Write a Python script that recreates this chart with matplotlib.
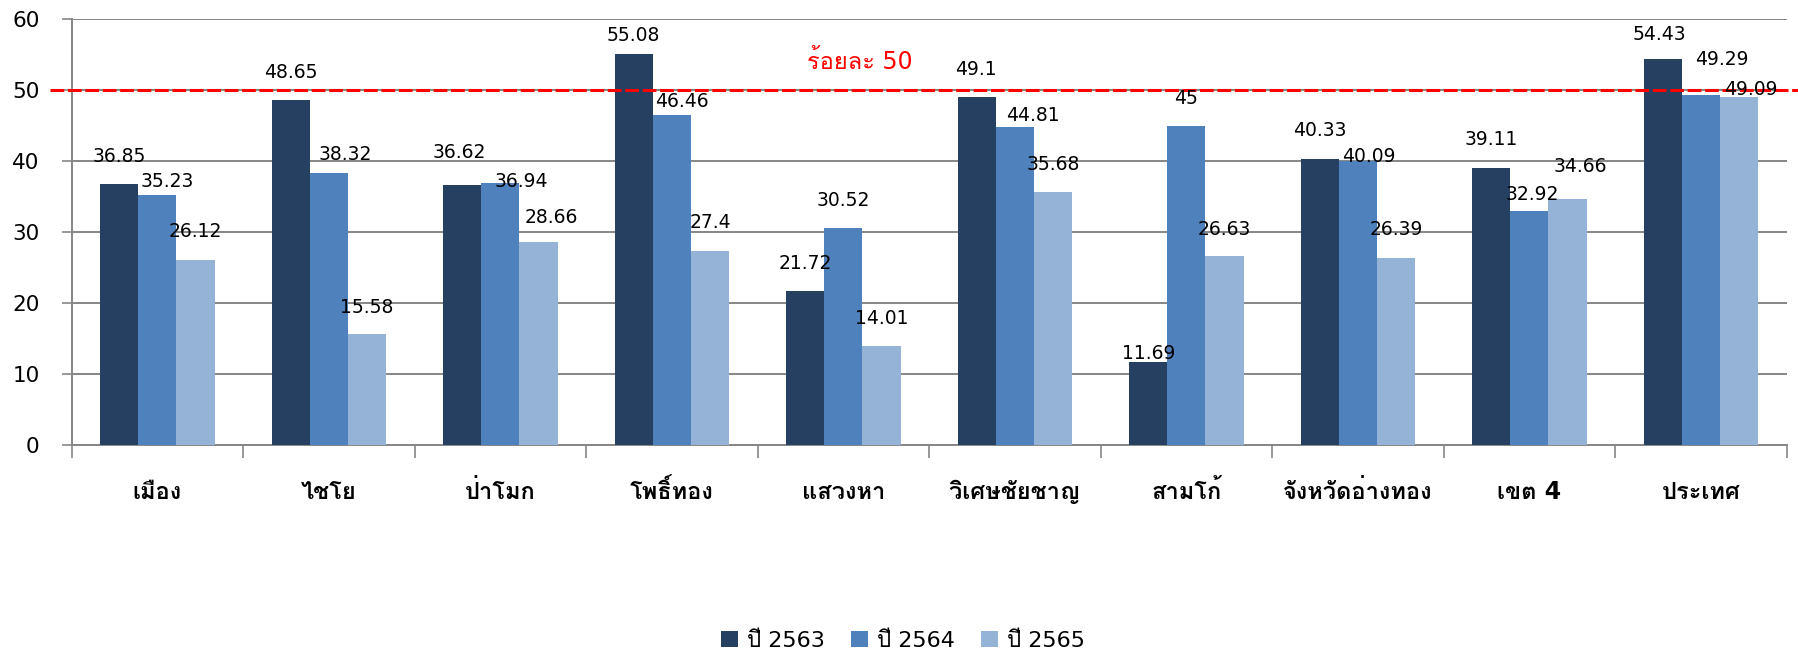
# Bar chart: three years per district, with the 50 percent target line

import matplotlib
matplotlib.use('Agg')
import matplotlib.pyplot as plt
import matplotlib.transforms as mtransforms
from matplotlib import font_manager
from matplotlib.ft2font import FT2Font

categories = ['เมือง', 'ไชโย', 'ป่าโมก', 'โพธิ์ทอง', 'แสวงหา', 'วิเศษชัยชาญ',
              'สามโก้', 'จังหวัดอ่างทอง', 'เขต 4', 'ประเทศ']
series_names = ['ปี 2563', 'ปี 2564', 'ปี 2565']
y2563 = [36.85, 48.65, 36.62, 55.08, 21.72, 49.1, 11.69, 40.33, 39.11, 54.43]
y2564 = [35.23, 38.32, 36.94, 46.46, 30.52, 44.81, 45, 40.09, 32.92, 49.29]
y2565 = [26.12, 15.58, 28.66, 27.4, 14.01, 35.68, 26.63, 26.39, 34.66, 49.09]
target = 50
target_label = 'ร้อยละ 50'
yticks = [0, 10, 20, 30, 40, 50, 60]

colors = ['#264061', '#4F81BD', '#95B3D7']

# label nudges in pixels (the labels were moved by hand in the original)
label_dx = [
    [0, 0, -3, 0, 0, -1, 0, 0, 0, -3],
    [10, 16, 21, 10, 0, 18, 0, 11, 3, 21],
    [0, 0, 13, 0, 0, 0, 0, 0, 13, 12],
]
label_dy = [
    [27, 27, 33, 19, 27, 27, 9, 28, 28, 24],
    [14, 19, 1, 14, 28, 12, 27, 4, 17, 36],
    [28, 27, 24, 28, 27, 27, 27, 28, 33, 7],
]


def find_thai_font():
    seen = set()
    for f in font_manager.fontManager.ttflist:
        if f.name in seen:
            continue
        seen.add(f.name)
        try:
            cmap = FT2Font(f.fname).get_charmap()
        except Exception:
            continue
        if 0x0E01 in cmap and 0x0E49 in cmap:
            return f.name
    return None


thai = find_thai_font()
fams = ['DejaVu Sans'] + ([thai] if thai else [])
plt.rcParams['font.family'] = fams

DPI = 100
fig = plt.figure(figsize=(17.99, 6.54), dpi=DPI)
ax = fig.add_axes([0.0398, 0.3196, 0.9533, 0.6509])

grid_c = '#868686'
w = 1 / 4.5
data = [y2563, y2564, y2565]
for s, vals in enumerate(data):
    xs = [i + (s - 1) * w for i in range(len(categories))]
    ax.bar(xs, vals, width=w, color=colors[s], label=series_names[s], zorder=3)
    for i, v in enumerate(vals):
        ax.annotate('{:g}'.format(v), (xs[i], v),
                    xytext=(label_dx[s][i] * 72 / DPI, label_dy[s][i] * 72 / DPI),
                    textcoords='offset points', ha='center', va='center',
                    fontsize=13.5, color='black', zorder=5)

ax.set_xlim(-0.5, len(categories) - 0.5)
ax.set_ylim(0, 60)
ax.set_yticks(yticks)
ax.yaxis.grid(True, color=grid_c, linewidth=1.4, zorder=0)
ax.set_axisbelow(True)
ax.tick_params(axis='y', length=7, width=1.2, color=grid_c, labelsize=15.5, pad=16)

ax.set_xticks([i - 0.5 for i in range(len(categories) + 1)])
ax.set_xticklabels([])
ax.tick_params(axis='x', length=9, width=1.2, color=grid_c)

trans_x = mtransforms.blended_transform_factory(ax.transData, ax.transAxes)
for i, c in enumerate(categories):
    ax.text(i, -0.110, c, transform=trans_x, ha='center', va='center',
            fontsize=17, fontweight='bold', family=fams)

for side in ['top', 'right']:
    ax.spines[side].set_visible(False)
ax.spines['left'].set_color(grid_c)
ax.spines['bottom'].set_color(grid_c)
ax.spines['left'].set_linewidth(1.4)
ax.spines['bottom'].set_linewidth(1.4)

# target line, runs slightly past the plot area on both sides
trans_y = mtransforms.blended_transform_factory(ax.transAxes, ax.transData)
ax.plot([-0.0126, 1.0072], [target, target], transform=trans_y, color='#FF0000',
        linewidth=2.2, dashes=(4.5, 1.2), clip_on=False, zorder=4)
ax.text(0.4597, 54, target_label, transform=trans_y,
        ha='center', va='center', color='#FF0000', fontsize=17, family=fams)

fig.legend(loc='center', bbox_to_anchor=(0.502, 0.02), ncol=3, frameon=False,
           fontsize=16, handlelength=0.75, handleheight=0.75, handletextpad=0.4,
           columnspacing=1.2)

fig.savefig('out.png', dpi=DPI)
